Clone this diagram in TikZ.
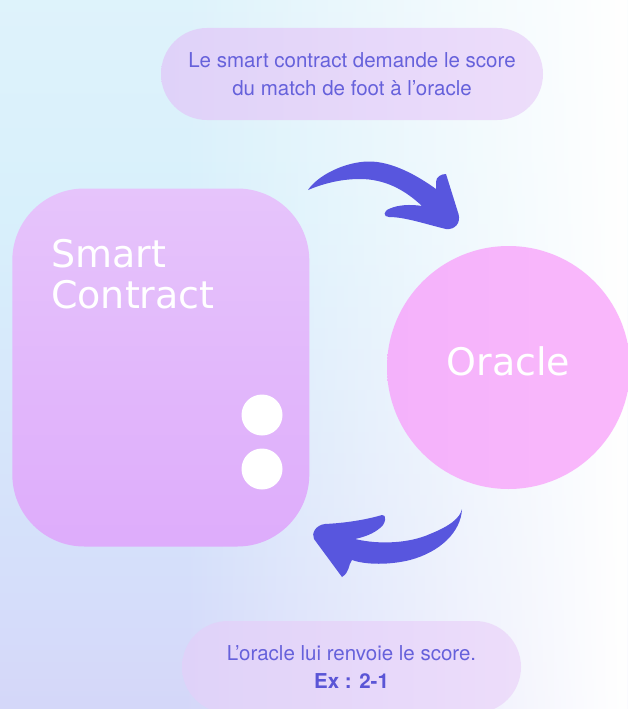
\documentclass[tikz,border=0pt]{standalone}
\usepackage{xcolor}
\usepackage{fontspec}
\setmainfont{TeX Gyre Heros}
\newfontfamily\titlefont{DejaVu Sans}
\usepackage{tikz}
\usetikzlibrary{positioning, fadings}
\definecolor{Ink}{HTML}{6661DB}
\definecolor{InkBold}{HTML}{5A55D6}
\definecolor{Swoosh}{HTML}{5856DE}
\definecolor{SkyTop}{HTML}{F2FBFD}
\definecolor{SkyCyan}{HTML}{D8F0FB}
\definecolor{SkyMid}{HTML}{D5DFFA}
\definecolor{SkyLow}{HTML}{D3C2F7}
\definecolor{PillLeft}{HTML}{DFD2F9}
\definecolor{PillRight}{HTML}{EDDDFA}
\definecolor{BoxTop}{HTML}{E6C4FB}
\definecolor{BoxLow}{HTML}{DEACFB}
\definecolor{OrbLeft}{HTML}{F4B2FB}
\definecolor{OrbRight}{HTML}{FAB8FB}
\pgfdeclareverticalshading{sky}{100bp}{color(0bp)=(SkyLow); color(35bp)=(SkyMid); color(60bp)=(SkyCyan); color(85bp)=(SkyCyan!60!SkyTop); color(100bp)=(SkyTop)}
\tikzfading[name=whiten, left color=transparent!100, right color=transparent!0]

\begin{document}
\begin{tikzpicture}[
  x=1pt, y=-1pt,
  pill/.style={rounded corners=46pt, minimum height=92pt, inner sep=0pt, align=center, left color=PillLeft, right color=PillRight,
    text=Ink, font=\fontsize{20.5pt}{27.5pt}\selectfont},
  bigtext/.style={text=white, inner sep=0pt, font=\titlefont\fontsize{38pt}{41pt}\selectfont},
  contractbox/.style={rounded corners=72pt, minimum width=297pt, minimum height=358pt, top color=BoxTop, bottom color=BoxLow},
  orb/.style={circle, minimum size=243pt, inner sep=0pt, left color=OrbLeft, right color=OrbRight},
  dot/.style={circle, minimum size=41pt, inner sep=0pt, fill=white},
  swoosh/.style={fill=Swoosh}
]
\useasboundingbox (0,0) rectangle (627,709);
\shade[shading=sky] (0,0) rectangle (627,709);
\fill[white, path fading=whiten] (180,0) rectangle (627,709);

\node[pill, minimum width=382pt] (ask) at (352,74) {Le smart contract demande le score\\du match de foot à l’oracle};
\node[pill, minimum width=339pt] (reply) at (351.5,667) {L’oracle lui renvoie le score.\\\textcolor{InkBold}{\bfseries Ex : 2-1}};

\node[contractbox] (contract) at (160.8,367.5) {};
\node[bigtext, anchor=base west, align=left] (contractLabel) at (51,308) {Smart\\Contract};
\node[dot] (dotTop) at (262,415) {};
\node[dot] (dotLow) at (262,469) {};

\node[orb] (oracle) at (508.5,367.5) {};
\node[bigtext] (oracleLabel) at ([yshift=6pt]oracle.center) {Oracle};

% request: contract -> oracle
\fill[swoosh] (308,190)
  .. controls (318,175) and (345,162) .. (368,161.5)
  .. controls (392,161) and (418,176) .. (436,189)
  -- (436,182) .. controls (436,177) and (441,174) .. (446,174)
  -- (458.5,214) .. controls (461,223) and (455,230) .. (446,229)
  .. controls (425,224) and (405,217) .. (389,217)
  .. controls (383,217) and (383,211) .. (390,208.5)
  .. controls (398,205) and (410,204) .. (422,206)
  .. controls (405,190) and (385,179) .. (360,179)
  .. controls (338,179) and (320,185) .. cycle;
% answer: oracle -> contract
\fill[swoosh] (462,509)
  .. controls (461,532) and (440,552) .. (410,560)
  .. controls (390,565) and (366,565) .. (352,560)
  .. controls (348,565) and (350,572) .. (342,577)
  -- (314,539) .. controls (311,533) and (316,525) .. (325,524)
  .. controls (345,523) and (365,520) .. (382,515)
  .. controls (387,514) and (386,524) .. (380,528)
  .. controls (373,534) and (364,537) .. (355,539)
  .. controls (380,545) and (410,543) .. (430,534)
  .. controls (450,526) and (460,518) .. cycle;
\end{tikzpicture}
\end{document}
